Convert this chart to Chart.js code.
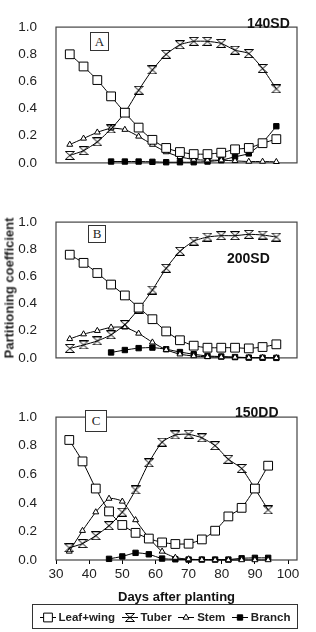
<!DOCTYPE html>
<html>
<head>
<meta charset="utf-8">
<script src="https://cdn.jsdelivr.net/npm/chart.js@4.4.0/dist/chart.umd.min.js"></script>
<style>
  body { margin: 0; width: 316px; height: 632px; background: #fff; position: relative; overflow: hidden;
         font-family: Arial, "Liberation Sans", sans-serif; color: #222; }
  canvas.panel { position: absolute; left: 0; }
  .tag { position: absolute; border: 1px solid #333; background: #fff; text-align: center;
         font-family: "Times New Roman", "Liberation Serif", serif; font-size: 13px; color: #222; }
  .trt { position: absolute; font-weight: bold; font-size: 14px; color: #111; white-space: nowrap; }
  #ytitle { position: absolute; left: 9px; top: 288px; transform: translate(-50%, -50%) rotate(-90deg);
            font-weight: bold; font-size: 13px; color: #222; white-space: nowrap; }
  #legend { position: absolute; left: 32px; top: 604px; width: 264px; height: 23px; border: 1.5px solid #333;
            display: flex; align-items: center; justify-content: space-evenly; font-weight: bold; font-size: 11.5px; }
  #legend span.item { display: flex; align-items: center; gap: 3px; }
</style>
</head>
<body>
<canvas class="panel" id="panelA" width="316" height="190" style="top:0px"></canvas>
<canvas class="panel" id="panelB" width="316" height="190" style="top:195px"></canvas>
<canvas class="panel" id="panelC" width="316" height="215" style="top:390px"></canvas>

<div class="tag" style="left:90px;top:32px;width:17px;height:17px;line-height:17px">A</div>
<div class="tag" style="left:88px;top:225px;width:16px;height:16px;line-height:16px">B</div>
<div class="tag" style="left:85px;top:410px;width:20px;height:20px;line-height:20px">C</div>
<div class="trt" style="left:247px;top:15px">140SD</div>
<div class="trt" style="left:227px;top:250px">200SD</div>
<div class="trt" style="left:235px;top:404px">150DD</div>
<div id="ytitle">Partitioning coefficient</div>
<div id="legend"></div>

<script>
// sampling days (every 4 days) and the branch series, which starts later
const days = [34, 38, 42, 46, 50, 54, 58, 62, 66, 70, 74, 78, 82, 86, 90, 94];
const branchDays = [46, 50, 54, 58, 62, 66, 70, 74, 78, 82, 86, 90, 94];
const seriesNames = ["Leaf+wing", "Tuber", "Stem", "Branch"];
const xTicks = [30, 40, 50, 60, 70, 80, 90, 100];
const yTicks = [0, 0.2, 0.4, 0.6, 0.8, 1.0];

// A - 140SD
const leafA   = [0.80, 0.71, 0.61, 0.49, 0.37, 0.26, 0.17, 0.11, 0.08, 0.065, 0.065, 0.075, 0.10, 0.11, 0.145, 0.175];
const tuberA  = [0.055, 0.09, 0.155, 0.25, 0.37, 0.535, 0.685, 0.80, 0.87, 0.895, 0.895, 0.88, 0.83, 0.805, 0.695, 0.545];
const stemA   = [0.135, 0.18, 0.225, 0.255, 0.245, 0.195, 0.135, 0.08, 0.045, 0.025, 0.02, 0.02, 0.015, 0.01, 0.01, 0.008];
const branchA = [0.01, 0.01, 0.01, 0.008, 0.005, 0.005, 0.005, 0.01, 0.02, 0.045, 0.07, 0.15, 0.27];

// B - 200SD
const leafB   = [0.76, 0.70, 0.625, 0.54, 0.46, 0.37, 0.285, 0.195, 0.13, 0.09, 0.075, 0.075, 0.075, 0.07, 0.08, 0.10];
const tuberB  = [0.07, 0.095, 0.125, 0.17, 0.245, 0.36, 0.50, 0.66, 0.785, 0.86, 0.89, 0.90, 0.90, 0.91, 0.905, 0.89];
const stemB   = [0.14, 0.175, 0.20, 0.225, 0.225, 0.18, 0.115, 0.06, 0.027, 0.014, 0.008, 0.006, 0.004, 0.002, 0.002, 0.0];
const branchB = [0.04, 0.058, 0.072, 0.076, 0.064, 0.043, 0.027, 0.014, 0.01, 0.006, 0.002, 0.001, 0.0];

// C - 150DD
const leafC   = [0.84, 0.69, 0.50, 0.34, 0.245, 0.19, 0.15, 0.123, 0.112, 0.114, 0.144, 0.205, 0.305, 0.365, 0.50, 0.66];
const tuberC  = [0.085, 0.115, 0.17, 0.24, 0.335, 0.49, 0.68, 0.825, 0.875, 0.88, 0.855, 0.80, 0.705, 0.64, 0.50, 0.35];
const stemC   = [0.06, 0.205, 0.335, 0.43, 0.41, 0.28, 0.155, 0.06, 0.017, 0.006, 0.002, 0, 0, 0, 0, 0];
const branchC = [0.008, 0.025, 0.05, 0.04, 0.01, 0.005, 0.003, 0.003, 0.003, 0.003, 0.012, 0.015, 0.015];

Chart.defaults.font.family = 'Arial, "Liberation Sans", sans-serif';
Chart.defaults.color = "#222";

// hourglass marker used for the tuber series
function hourglass(w, h) {
  const c = document.createElement("canvas");
  c.width = w; c.height = h;
  const g = c.getContext("2d");
  g.strokeStyle = "#000";
  g.lineWidth = 1;
  g.beginPath();
  g.moveTo(0.5, 0.5); g.lineTo(w - 0.5, 0.5);
  g.lineTo(0.5, h - 0.5); g.lineTo(w - 0.5, h - 0.5);
  g.closePath();
  g.stroke();
  return c;
}
const tuberMark = hourglass(10, 9);

const styles = [
  { pointStyle: "rect", pointRadius: 6.2, pointBackgroundColor: "#fff" },
  { pointStyle: tuberMark, pointRadius: 5, pointBackgroundColor: "#fff" },
  { pointStyle: "triangle", pointRadius: 3.4, pointBackgroundColor: "#fff" },
  { pointStyle: "rect", pointRadius: 3.8, pointBackgroundColor: "#000" }
];

function pts(xs, ys) {
  return ys.map((v, i) => ({ x: xs[i], y: v }));
}

const frame = {
  id: "frame",
  beforeDatasetsDraw(chart) {
    const { ctx, chartArea: a } = chart;
    ctx.save();
    ctx.strokeStyle = "#444";
    ctx.lineWidth = 1.2;
    ctx.strokeRect(a.left, a.top, a.right - a.left, a.bottom - a.top);
    ctx.restore();
  }
};

function makePanel(id, series, pad, showX) {
  const xs = [days, days, days, branchDays];
  const datasets = series.map((ys, i) => Object.assign({
    label: seriesNames[i],
    data: pts(xs[i], ys),
    borderColor: "#000",
    borderWidth: 1,
    pointBorderColor: "#000",
    pointBorderWidth: 1,
    tension: 0.2,
    clip: false
  }, styles[i]));

  const xScale = showX ? {
    type: "linear", min: 30, max: 102.7,
    afterBuildTicks(s) { s.ticks = xTicks.map(v => ({ value: v })); },
    afterFit(s) { s.height = 45; },
    ticks: { padding: 2, font: { size: 13.5 }, color: "#222" },
    grid: { display: true, drawOnChartArea: false, drawTicks: true, tickLength: 4, color: "#000" },
    border: { display: false },
    title: { display: true, text: "Days after planting", color: "#111",
             font: { size: 13, weight: "bold" }, padding: { top: 3, bottom: 0 } }
  } : { type: "linear", min: 30, max: 100, display: false };

  new Chart(document.getElementById(id), {
    type: "line",
    data: { datasets: datasets },
    options: {
      responsive: false,
      animation: false,
      layout: { padding: pad },
      plugins: { legend: { display: false }, tooltip: { enabled: false } },
      scales: {
        x: xScale,
        y: {
          min: 0, max: 1,
          afterFit(s) { s.width = 56; },
          afterBuildTicks(s) { s.ticks = yTicks.map(v => ({ value: v })); },
          ticks: { padding: 19, font: { size: 13.5 }, color: "#222", callback: v => v.toFixed(1) },
          grid: { display: false, drawTicks: false },
          border: { display: false }
        }
      }
    },
    plugins: [frame]
  });
}

makePanel("panelA", [leafA, tuberA, stemA, branchA], { left: 0, right: 19, top: 12, bottom: 13 }, false);
makePanel("panelB", [leafB, tuberB, stemB, branchB], { left: 0, right: 19, top: 13, bottom: 14 }, false);
makePanel("panelC", [leafC, tuberC, stemC, branchC], { left: 0, right: 19, top: 11.5, bottom: 0 }, true);

// legend: line segment with the series marker, then its name
const legend = document.getElementById("legend");
seriesNames.forEach((name, i) => {
  const item = document.createElement("span");
  item.className = "item";
  const c = document.createElement("canvas");
  c.width = 16; c.height = 12;
  const g = c.getContext("2d");
  g.strokeStyle = "#000"; g.lineWidth = 1;
  g.beginPath(); g.moveTo(0, 6.5); g.lineTo(16, 6.5); g.stroke();
  g.fillStyle = styles[i].pointBackgroundColor;
  Chart.helpers.drawPoint(g, { pointStyle: styles[i].pointStyle, radius: styles[i].pointRadius, rotation: 0, borderWidth: 1 }, 8, 6.5);
  item.appendChild(c);
  const t = document.createElement("span");
  t.textContent = name;
  item.appendChild(t);
  legend.appendChild(item);
});
</script>
</body>
</html>
